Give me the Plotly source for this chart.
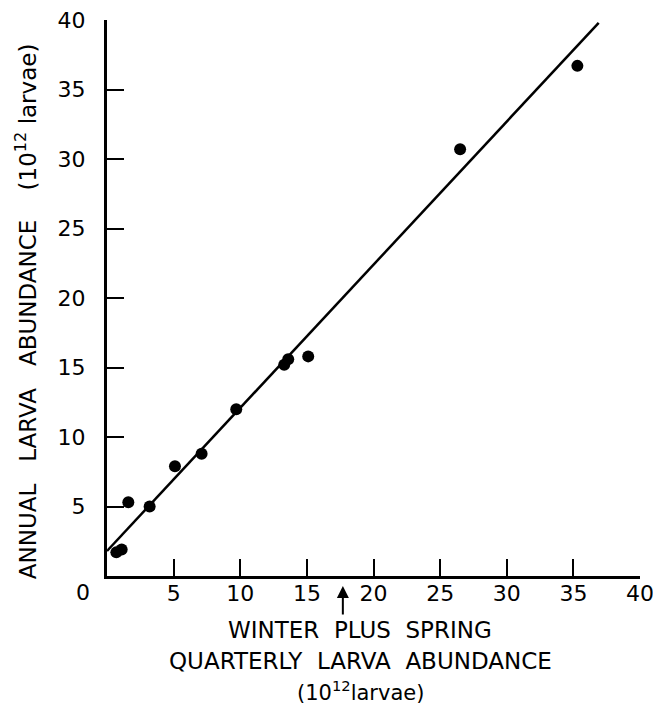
import plotly.graph_objects as go

# Observed points (10^12 larvae)
winter_spring = [0.7, 1.1, 1.6, 3.2, 5.1, 7.1, 9.7, 13.3, 13.6, 15.1, 26.5, 35.3]
annual = [1.7, 1.9, 5.3, 5.0, 7.9, 8.8, 12.0, 15.2, 15.6, 15.8, 30.7, 36.7]

# Fitted line end points
fit_x = [0.0, 36.9]
fit_y = [1.8, 39.8]

tick_vals = [5, 10, 15, 20, 25, 30, 35, 40]
tick_text = ["5", "10", "15", "20", "25", "30", "35", "40"]
arrow_x = 17.7

FONT = "DejaVu Sans"
SP = "\u00a0"

fig = go.Figure()
fig.add_trace(go.Scatter(x=fit_x, y=fit_y, mode="lines",
                         line=dict(color="black", width=2.5), hoverinfo="skip"))
fig.add_trace(go.Scatter(x=winter_spring, y=annual, mode="markers",
                         marker=dict(color="black", size=12)))

axis_common = dict(
    range=[0, 40], tickvals=tick_vals, ticktext=tick_text,
    ticks="inside", ticklen=17, tickwidth=2, tickcolor="black",
    showline=True, linecolor="black", linewidth=3, mirror=False,
    showgrid=False, zeroline=False, automargin=False,
    ticklabeloverflow="allow",
    tickfont=dict(family=FONT, size=22, color="black"),
)

fig.update_layout(
    width=653, height=707,
    margin=dict(l=107, r=13, t=20, b=131, autoexpand=False),
    plot_bgcolor="white", paper_bgcolor="white",
    showlegend=False,
    xaxis=dict(**axis_common, ticklabelstandoff=-4),
    yaxis=dict(**axis_common, ticklabelstandoff=14),
)

# shared zero label at the corner
fig.add_annotation(text="0", xref="paper", yref="paper", x=-0.045, y=-0.03,
                   showarrow=False, font=dict(family=FONT, size=22, color="black"),
                   xanchor="center", yanchor="middle")

# arrow under x axis
fig.add_annotation(x=arrow_x, y=0, xref="x", yref="y", text="", showarrow=True,
                   ax=0, ay=40, standoff=10, arrowhead=2, arrowsize=1.2,
                   arrowwidth=2, arrowcolor="black")

# x axis title
xt_font = dict(family=FONT, size=23, color="black")
fig.add_annotation(text=f"WINTER{SP*2}PLUS{SP*2}SPRING", xref="paper", yref="paper",
                   x=0.475, y=-0.124, showarrow=False, font=xt_font)
fig.add_annotation(text=f"QUARTERLY{SP*2}LARVA{SP*2}ABUNDANCE", xref="paper", yref="paper",
                   x=0.475, y=-0.180, showarrow=False, font=xt_font)
fig.add_annotation(text="(10<sup>12</sup>larvae)", xref="paper", yref="paper",
                   x=0.475, y=-0.235, showarrow=False,
                   font=dict(family=FONT, size=21, color="black"))

# y axis title
fig.add_annotation(text=f"ANNUAL{SP*3}LARVA{SP*3}ABUNDANCE{SP*4}(10<sup>12</sup>{SP}larvae)",
                   xref="paper", yref="paper", x=-0.1845, y=0.4756, textangle=-90,
                   showarrow=False, font=dict(family=FONT, size=23, color="black"))

fig.write_html("out.html", config={"displayModeBar": False},
               post_script="document.body.style.margin='0';document.body.style.overflow='hidden';")
